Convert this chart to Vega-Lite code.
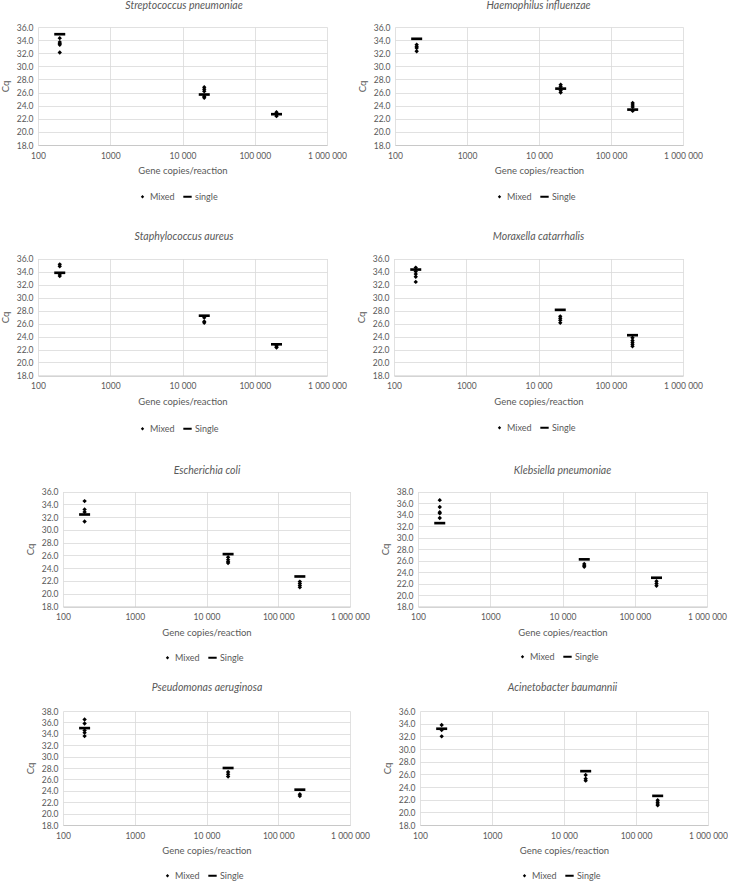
{
  "$schema": "https://vega.github.io/schema/vega-lite/v6.json",
  "background": "white",
  "padding": {"left": 0, "top": 0, "right": 0, "bottom": 0},
  "bounds": "flush",
  "align": {"row": "each", "column": "each"},
  "spacing": {"row": 100, "column": 44},
  "columns": 2,
  "datasets": {
    "p1": [
      {"copies": 200, "cq": 34.9, "series": "single"},
      {"copies": 20000, "cq": 25.7, "series": "single"},
      {"copies": 200000, "cq": 22.7, "series": "single"},
      {"copies": 200, "cq": 34.3, "series": "Mixed"},
      {"copies": 200, "cq": 33.7, "series": "Mixed"},
      {"copies": 200, "cq": 33.5, "series": "Mixed"},
      {"copies": 200, "cq": 33.3, "series": "Mixed"},
      {"copies": 200, "cq": 32.1, "series": "Mixed"},
      {"copies": 20000, "cq": 26.8, "series": "Mixed"},
      {"copies": 20000, "cq": 26.5, "series": "Mixed"},
      {"copies": 20000, "cq": 26.2, "series": "Mixed"},
      {"copies": 20000, "cq": 25.4, "series": "Mixed"},
      {"copies": 20000, "cq": 25.2, "series": "Mixed"},
      {"copies": 200000, "cq": 23.0, "series": "Mixed"},
      {"copies": 200000, "cq": 22.8, "series": "Mixed"},
      {"copies": 200000, "cq": 22.6, "series": "Mixed"},
      {"copies": 200000, "cq": 22.4, "series": "Mixed"}
    ],
    "p2": [
      {"copies": 200, "cq": 34.2, "series": "Single"},
      {"copies": 20000, "cq": 26.6, "series": "Single"},
      {"copies": 200000, "cq": 23.4, "series": "Single"},
      {"copies": 200, "cq": 33.3, "series": "Mixed"},
      {"copies": 200, "cq": 33.0, "series": "Mixed"},
      {"copies": 200, "cq": 32.8, "series": "Mixed"},
      {"copies": 200, "cq": 32.3, "series": "Mixed"},
      {"copies": 20000, "cq": 27.2, "series": "Mixed"},
      {"copies": 20000, "cq": 26.9, "series": "Mixed"},
      {"copies": 20000, "cq": 26.3, "series": "Mixed"},
      {"copies": 20000, "cq": 26.0, "series": "Mixed"},
      {"copies": 200000, "cq": 24.4, "series": "Mixed"},
      {"copies": 200000, "cq": 24.1, "series": "Mixed"},
      {"copies": 200000, "cq": 23.8, "series": "Mixed"},
      {"copies": 200000, "cq": 23.2, "series": "Mixed"}
    ],
    "p3": [
      {"copies": 200, "cq": 33.8, "series": "Single"},
      {"copies": 20000, "cq": 27.2, "series": "Single"},
      {"copies": 200000, "cq": 22.8, "series": "Single"},
      {"copies": 200, "cq": 35.1, "series": "Mixed"},
      {"copies": 200, "cq": 34.8, "series": "Mixed"},
      {"copies": 200, "cq": 33.6, "series": "Mixed"},
      {"copies": 200, "cq": 33.3, "series": "Mixed"},
      {"copies": 20000, "cq": 26.9, "series": "Mixed"},
      {"copies": 20000, "cq": 26.3, "series": "Mixed"},
      {"copies": 20000, "cq": 26.1, "series": "Mixed"},
      {"copies": 200000, "cq": 22.6, "series": "Mixed"},
      {"copies": 200000, "cq": 22.4, "series": "Mixed"},
      {"copies": 200000, "cq": 22.3, "series": "Mixed"}
    ],
    "p4": [
      {"copies": 200, "cq": 34.3, "series": "Single"},
      {"copies": 20000, "cq": 28.1, "series": "Single"},
      {"copies": 200000, "cq": 24.2, "series": "Single"},
      {"copies": 200, "cq": 34.6, "series": "Mixed"},
      {"copies": 200, "cq": 34.0, "series": "Mixed"},
      {"copies": 200, "cq": 33.6, "series": "Mixed"},
      {"copies": 200, "cq": 33.2, "series": "Mixed"},
      {"copies": 200, "cq": 32.4, "series": "Mixed"},
      {"copies": 20000, "cq": 27.1, "series": "Mixed"},
      {"copies": 20000, "cq": 26.8, "series": "Mixed"},
      {"copies": 20000, "cq": 26.5, "series": "Mixed"},
      {"copies": 20000, "cq": 26.1, "series": "Mixed"},
      {"copies": 200000, "cq": 23.8, "series": "Mixed"},
      {"copies": 200000, "cq": 23.4, "series": "Mixed"},
      {"copies": 200000, "cq": 23.1, "series": "Mixed"},
      {"copies": 200000, "cq": 22.8, "series": "Mixed"},
      {"copies": 200000, "cq": 22.5, "series": "Mixed"}
    ],
    "p5": [
      {"copies": 200, "cq": 32.4, "series": "Single"},
      {"copies": 20000, "cq": 26.2, "series": "Single"},
      {"copies": 200000, "cq": 22.7, "series": "Single"},
      {"copies": 200, "cq": 34.5, "series": "Mixed"},
      {"copies": 200, "cq": 33.2, "series": "Mixed"},
      {"copies": 200, "cq": 32.8, "series": "Mixed"},
      {"copies": 200, "cq": 31.3, "series": "Mixed"},
      {"copies": 20000, "cq": 25.7, "series": "Mixed"},
      {"copies": 20000, "cq": 25.3, "series": "Mixed"},
      {"copies": 20000, "cq": 25.0, "series": "Mixed"},
      {"copies": 20000, "cq": 24.8, "series": "Mixed"},
      {"copies": 200000, "cq": 21.9, "series": "Mixed"},
      {"copies": 200000, "cq": 21.6, "series": "Mixed"},
      {"copies": 200000, "cq": 21.3, "series": "Mixed"},
      {"copies": 200000, "cq": 21.0, "series": "Mixed"}
    ],
    "p6": [
      {"copies": 200, "cq": 32.5, "series": "Single"},
      {"copies": 20000, "cq": 26.2, "series": "Single"},
      {"copies": 200000, "cq": 23.0, "series": "Single"},
      {"copies": 200, "cq": 36.5, "series": "Mixed"},
      {"copies": 200, "cq": 35.3, "series": "Mixed"},
      {"copies": 200, "cq": 34.4, "series": "Mixed"},
      {"copies": 200, "cq": 34.2, "series": "Mixed"},
      {"copies": 200, "cq": 33.4, "series": "Mixed"},
      {"copies": 20000, "cq": 25.4, "series": "Mixed"},
      {"copies": 20000, "cq": 25.1, "series": "Mixed"},
      {"copies": 20000, "cq": 24.9, "series": "Mixed"},
      {"copies": 200000, "cq": 22.4, "series": "Mixed"},
      {"copies": 200000, "cq": 22.0, "series": "Mixed"},
      {"copies": 200000, "cq": 21.6, "series": "Mixed"}
    ],
    "p7": [
      {"copies": 200, "cq": 35.0, "series": "Single"},
      {"copies": 20000, "cq": 28.0, "series": "Single"},
      {"copies": 200000, "cq": 24.2, "series": "Single"},
      {"copies": 200, "cq": 36.5, "series": "Mixed"},
      {"copies": 200, "cq": 35.8, "series": "Mixed"},
      {"copies": 200, "cq": 34.6, "series": "Mixed"},
      {"copies": 200, "cq": 34.2, "series": "Mixed"},
      {"copies": 200, "cq": 33.6, "series": "Mixed"},
      {"copies": 20000, "cq": 27.3, "series": "Mixed"},
      {"copies": 20000, "cq": 26.9, "series": "Mixed"},
      {"copies": 20000, "cq": 26.5, "series": "Mixed"},
      {"copies": 200000, "cq": 23.4, "series": "Mixed"},
      {"copies": 200000, "cq": 23.1, "series": "Mixed"}
    ],
    "p8": [
      {"copies": 200, "cq": 33.2, "series": "Single"},
      {"copies": 20000, "cq": 26.5, "series": "Single"},
      {"copies": 200000, "cq": 22.6, "series": "Single"},
      {"copies": 200, "cq": 33.8, "series": "Mixed"},
      {"copies": 200, "cq": 33.0, "series": "Mixed"},
      {"copies": 200, "cq": 32.0, "series": "Mixed"},
      {"copies": 20000, "cq": 25.9, "series": "Mixed"},
      {"copies": 20000, "cq": 25.3, "series": "Mixed"},
      {"copies": 20000, "cq": 25.0, "series": "Mixed"},
      {"copies": 200000, "cq": 21.9, "series": "Mixed"},
      {"copies": 200000, "cq": 21.6, "series": "Mixed"},
      {"copies": 200000, "cq": 21.3, "series": "Mixed"},
      {"copies": 200000, "cq": 21.1, "series": "Mixed"}
    ]
  },
  "concat": [
    {
      "width": 312, "height": 122,
      "title": {"text": "Streptococcus pneumoniae", "dx": -10, "offset": 12},
      "data": {"name": "p1"},
      "mark": {"type": "point", "filled": true, "opacity": 1, "strokeWidth": 0, "color": "black", "size": 121},
      "encoding": {
        "x": {"field": "copies", "type": "quantitative", "title": "Gene copies/reaction",
          "scale": {"type": "log", "domain": [100, 1000000], "range": [0, 289]},
          "axis": {"offset": -2, "values": [100, 1000, 10000, 100000, 1000000]}},
        "y": {"field": "cq", "type": "quantitative", "title": "Cq",
          "scale": {"domain": [18, 36], "range": [120, 2], "zero": false, "nice": false},
          "axis": {"offset": 0, "values": [18, 20, 22, 24, 26, 28, 30, 32, 34, 36]}},
        "shape": {"field": "series", "type": "nominal", "scale": {"domain": ["Mixed", "single"], "range": ["M0,-0.4L0.4,0L0,0.4L-0.4,0Z", "M-1,-0.24H1V0.24H-1Z"]}, "legend": {"legendX": 100, "legendY": 167}}
      }
    },
    {
      "width": 315, "height": 122,
      "title": {"text": "Haemophilus influenzae", "dx": -13, "offset": 12},
      "data": {"name": "p2"},
      "mark": {"type": "point", "filled": true, "opacity": 1, "strokeWidth": 0, "color": "black", "size": 121},
      "encoding": {
        "x": {"field": "copies", "type": "quantitative", "title": "Gene copies/reaction",
          "scale": {"type": "log", "domain": [100, 1000000], "range": [1, 289]},
          "axis": {"offset": -2, "values": [100, 1000, 10000, 100000, 1000000]}},
        "y": {"field": "cq", "type": "quantitative", "title": "Cq",
          "scale": {"domain": [18, 36], "range": [120, 2], "zero": false, "nice": false},
          "axis": {"offset": -1, "values": [18, 20, 22, 24, 26, 28, 30, 32, 34, 36]}},
        "shape": {"field": "series", "type": "nominal", "scale": {"domain": ["Mixed", "Single"], "range": ["M0,-0.4L0.4,0L0,0.4L-0.4,0Z", "M-1,-0.24H1V0.24H-1Z"]}, "legend": {"legendX": 101, "legendY": 167}}
      }
    },
    {
      "width": 312, "height": 140,
      "title": {"text": "Staphylococcus aureus", "dx": -10, "offset": 5},
      "data": {"name": "p3"},
      "mark": {"type": "point", "filled": true, "opacity": 1, "strokeWidth": 0, "color": "black", "size": 121},
      "encoding": {
        "x": {"field": "copies", "type": "quantitative", "title": "Gene copies/reaction",
          "scale": {"type": "log", "domain": [100, 1000000], "range": [0, 289]},
          "axis": {"offset": -11.5, "values": [100, 1000, 10000, 100000, 1000000]}},
        "y": {"field": "cq", "type": "quantitative", "title": "Cq",
          "scale": {"domain": [18, 36], "range": [128.5, 11.5], "zero": false, "nice": false},
          "axis": {"offset": 0, "values": [18, 20, 22, 24, 26, 28, 30, 32, 34, 36]}},
        "shape": {"field": "series", "type": "nominal", "scale": {"domain": ["Mixed", "Single"], "range": ["M0,-0.4L0.4,0L0,0.4L-0.4,0Z", "M-1,-0.24H1V0.24H-1Z"]}, "legend": {"legendX": 100, "legendY": 177}}
      }
    },
    {
      "width": 315, "height": 140,
      "title": {"text": "Moraxella catarrhalis", "dx": -13, "offset": 5},
      "data": {"name": "p4"},
      "mark": {"type": "point", "filled": true, "opacity": 1, "strokeWidth": 0, "color": "black", "size": 121},
      "encoding": {
        "x": {"field": "copies", "type": "quantitative", "title": "Gene copies/reaction",
          "scale": {"type": "log", "domain": [100, 1000000], "range": [0, 289]},
          "axis": {"offset": -11.5, "values": [100, 1000, 10000, 100000, 1000000]}},
        "y": {"field": "cq", "type": "quantitative", "title": "Cq",
          "scale": {"domain": [18, 36], "range": [128.5, 11.5], "zero": false, "nice": false},
          "axis": {"offset": 0, "values": [18, 20, 22, 24, 26, 28, 30, 32, 34, 36]}},
        "shape": {"field": "series", "type": "nominal", "scale": {"domain": ["Mixed", "Single"], "range": ["M0,-0.4L0.4,0L0,0.4L-0.4,0Z", "M-1,-0.24H1V0.24H-1Z"]}, "legend": {"legendX": 101, "legendY": 176}}
      }
    },
    {
      "width": 312, "height": 124,
      "title": {"text": "Escherichia coli", "dx": 13, "offset": 11},
      "data": {"name": "p5"},
      "mark": {"type": "point", "filled": true, "opacity": 1, "strokeWidth": 0, "color": "black", "size": 121},
      "encoding": {
        "x": {"field": "copies", "type": "quantitative", "title": "Gene copies/reaction",
          "scale": {"type": "log", "domain": [100, 1000000], "range": [25, 312]},
          "axis": {"offset": -4.5, "values": [100, 1000, 10000, 100000, 1000000]}},
        "y": {"field": "cq", "type": "quantitative", "title": "Cq",
          "scale": {"domain": [18, 36], "range": [119.5, 4.5], "zero": false, "nice": false},
          "axis": {"offset": -25, "values": [18, 20, 22, 24, 26, 28, 30, 32, 34, 36]}},
        "shape": {"field": "series", "type": "nominal", "scale": {"domain": ["Mixed", "Single"], "range": ["M0,-0.4L0.4,0L0,0.4L-0.4,0Z", "M-1,-0.24H1V0.24H-1Z"]}, "legend": {"legendX": 125, "legendY": 166}}
      }
    },
    {
      "width": 315, "height": 124,
      "title": {"text": "Klebsiella pneumoniae", "dx": 11, "offset": 11},
      "data": {"name": "p6"},
      "mark": {"type": "point", "filled": true, "opacity": 1, "strokeWidth": 0, "color": "black", "size": 121},
      "encoding": {
        "x": {"field": "copies", "type": "quantitative", "title": "Gene copies/reaction",
          "scale": {"type": "log", "domain": [100, 1000000], "range": [24, 313]},
          "axis": {"offset": -4.5, "values": [100, 1000, 10000, 100000, 1000000]}},
        "y": {"field": "cq", "type": "quantitative", "title": "Cq",
          "scale": {"domain": [18, 38], "range": [119.5, 4.5], "zero": false, "nice": false},
          "axis": {"offset": -24, "values": [18, 20, 22, 24, 26, 28, 30, 32, 34, 36, 38]}},
        "shape": {"field": "series", "type": "nominal", "scale": {"domain": ["Mixed", "Single"], "range": ["M0,-0.4L0.4,0L0,0.4L-0.4,0Z", "M-1,-0.24H1V0.24H-1Z"]}, "legend": {"legendX": 124, "legendY": 165}}
      }
    },
    {
      "width": 312, "height": 114,
      "title": {"text": "Pseudomonas aeruginosa", "dx": 13, "offset": 14},
      "data": {"name": "p7"},
      "mark": {"type": "point", "filled": true, "opacity": 1, "strokeWidth": 0, "color": "black", "size": 121},
      "encoding": {
        "x": {"field": "copies", "type": "quantitative", "title": "Gene copies/reaction",
          "scale": {"type": "log", "domain": [100, 1000000], "range": [25, 312]},
          "axis": {"offset": 0, "values": [100, 1000, 10000, 100000, 1000000]}},
        "y": {"field": "cq", "type": "quantitative", "title": "Cq",
          "scale": {"domain": [18, 38], "range": [114, 0], "zero": false, "nice": false},
          "axis": {"offset": -25, "values": [18, 20, 22, 24, 26, 28, 30, 32, 34, 36, 38]}},
        "shape": {"field": "series", "type": "nominal", "scale": {"domain": ["Mixed", "Single"], "range": ["M0,-0.4L0.4,0L0,0.4L-0.4,0Z", "M-1,-0.24H1V0.24H-1Z"]}, "legend": {"legendX": 125, "legendY": 160}}
      }
    },
    {
      "width": 315, "height": 114,
      "title": {"text": "Acinetobacter baumannii", "dx": 11, "offset": 14},
      "data": {"name": "p8"},
      "mark": {"type": "point", "filled": true, "opacity": 1, "strokeWidth": 0, "color": "black", "size": 121},
      "encoding": {
        "x": {"field": "copies", "type": "quantitative", "title": "Gene copies/reaction",
          "scale": {"type": "log", "domain": [100, 1000000], "range": [26, 314]},
          "axis": {"offset": 0, "values": [100, 1000, 10000, 100000, 1000000]}},
        "y": {"field": "cq", "type": "quantitative", "title": "Cq",
          "scale": {"domain": [18, 36], "range": [114, 0], "zero": false, "nice": false},
          "axis": {"offset": -26, "values": [18, 20, 22, 24, 26, 28, 30, 32, 34, 36]}},
        "shape": {"field": "series", "type": "nominal", "scale": {"domain": ["Mixed", "Single"], "range": ["M0,-0.4L0.4,0L0,0.4L-0.4,0Z", "M-1,-0.24H1V0.24H-1Z"]}, "legend": {"legendX": 126, "legendY": 160}}
      }
    }
  ],
  "resolve": {
    "scale": {"x": "independent", "y": "independent", "shape": "independent"},
    "axis": {"x": "independent", "y": "independent"},
    "legend": {"shape": "independent"}
  },
  "config": {
    "font": "Lato",
    "view": {"stroke": null},
    "title": {"font": "Lato", "fontSize": 10.5, "fontStyle": "italic", "fontWeight": "normal", "color": "#595959", "anchor": "middle", "frame": "group"},
    "axis": {
      "labelFont": "Lato", "labelFontSize": 8.5, "labelColor": "#595959",
      "titleFont": "Lato", "titleFontSize": 9.5, "titleColor": "#595959", "titleFontWeight": "normal",
      "gridColor": "#d9d9d9", "gridWidth": 0.8, "ticks": false, "labelOverlap": false
    },
    "axisX": {
      "domainColor": "#c8c8c8", "domainWidth": 1, "labelPadding": 6, "titlePadding": 6, "labelFlush": false,
      "labelExpr": "datum.value == 10000 ? '10 000' : datum.value == 100000 ? '100 000' : datum.value == 1000000 ? '1 000 000' : datum.value == 1000 ? '1000' : '100'"
    },
    "axisY": {"domain": false, "labelPadding": 5, "titlePadding": 6, "format": ".1f"},
    "legend": {
      "orient": "none", "direction": "horizontal", "title": null, "padding": 0,
      "labelFont": "Lato", "labelFontSize": 9, "labelColor": "#595959",
      "symbolSize": 70, "symbolFillColor": "black", "columnPadding": 8, "labelOffset": 3, "symbolStrokeWidth": 0
    }
  }
}
